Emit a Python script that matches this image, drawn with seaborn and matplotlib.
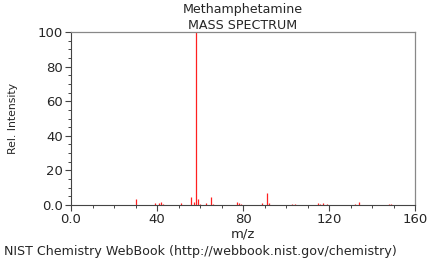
import matplotlib
matplotlib.use("Agg")
import matplotlib.pyplot as plt
import seaborn as sns
import pandas as pd
from matplotlib.ticker import MultipleLocator

mz = [30, 39, 41, 42, 43, 51, 56, 57, 58, 59, 60, 63, 65, 66, 77, 78, 79,
      89, 91, 92, 103, 104, 115, 116, 117, 119, 132, 134, 148, 149]
intensity = [3.2, 1.3, 1.0, 2.0, 0.8, 1.0, 4.8, 1.5, 100, 3.7, 0.6, 1.0, 4.4, 0.7,
             1.7, 0.9, 0.5, 1.4, 7.1, 0.9, 0.4, 0.4, 0.9, 0.6, 0.9, 0.6, 0.8, 1.7, 0.7, 0.4]
xticks = [0, 40, 80, 120, 160]
xticklabels = ["0.0", "40", "80", "120", "160"]
yticks = [0, 20, 40, 60, 80, 100]
yticklabels = ["0.0", "20", "40", "60", "80", "100"]

df = pd.DataFrame({"mz": mz, "intensity": intensity})

sns.set_style("white")
plt.rcParams['font.family'] = ['DejaVu Sans']

fig = plt.figure(figsize=(4.29, 2.62), dpi=100)
ax = fig.add_axes([71/429, 1-205/262, (415-71)/429, (205-32)/262])

ax.vlines(df["mz"], 0, df["intensity"], color="#ff2020", linewidth=0.9)

ax.set_xlim(0, 160)
ax.set_ylim(0, 100)
ax.set_xticks(xticks)
ax.set_xticklabels(xticklabels)
ax.set_yticks(yticks)
ax.set_yticklabels(yticklabels)
ax.xaxis.set_minor_locator(MultipleLocator(10))
ax.yaxis.set_minor_locator(MultipleLocator(5))
ax.tick_params(axis="both", which="major", direction="out", length=4, width=0.8,
               color="#444444", labelsize=9.5, pad=2, bottom=True, left=True)
ax.tick_params(axis="both", which="minor", direction="out", length=2, width=0.7,
               color="#444444", bottom=True, left=True)
for s in ["left", "bottom"]:
    ax.spines[s].set_color("#444444")
    ax.spines[s].set_linewidth(0.8)
for s in ["top", "right"]:
    ax.spines[s].set_color("#888888")
    ax.spines[s].set_linewidth(0.9)

ax.set_xlabel("m/z", fontsize=9.5, labelpad=1)
ax.set_ylabel("Rel. Intensity", fontsize=7.8, labelpad=14)
ax.set_title("Methamphetamine\nMASS SPECTRUM", fontsize=9.1, pad=2, linespacing=1.3)

fig.text(4/429, 1-251/262, "NIST Chemistry WebBook (http://webbook.nist.gov/chemistry)",
         fontsize=9.05, ha="left", va="center")

fig.savefig("out.png", dpi=100)
